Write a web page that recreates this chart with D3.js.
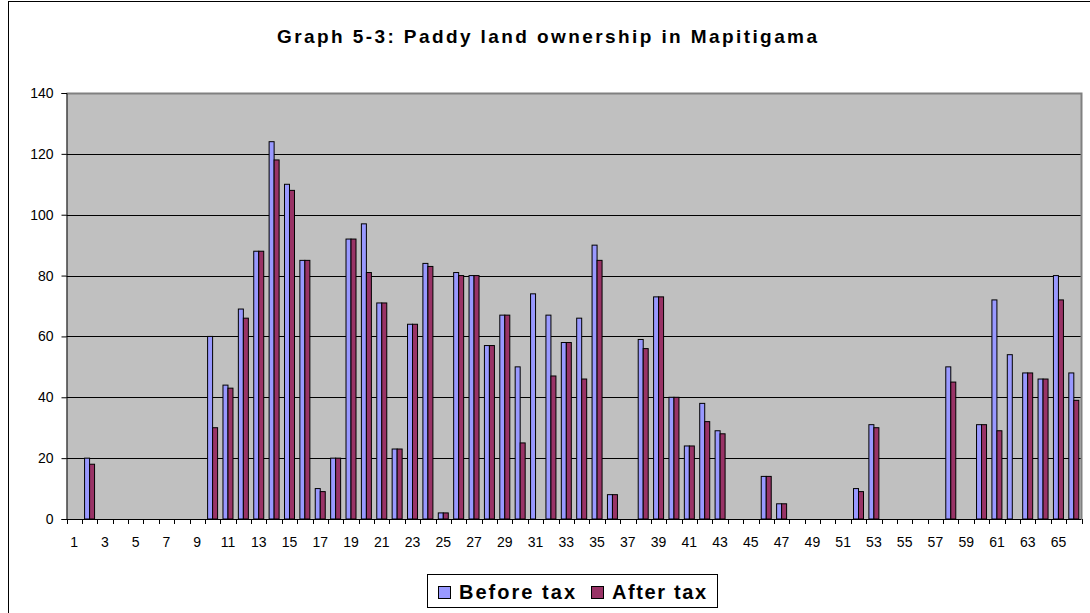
<!DOCTYPE html>
<html>
<head>
<meta charset="utf-8">
<script src="https://cdn.jsdelivr.net/npm/d3@7"></script>
<style>
  body { margin: 0; background: #fff; }
  svg { display: block; font-family: "Liberation Sans", Arial, sans-serif; }
</style>
</head>
<body>
<div id="chart"></div>
<script>
// categories 1..66 and the two series
var categories = d3.range(1, 67);
var beforeTax = [0,20,0,0,0,0,0,0,0,60, 44,69,88,124,110,85,10,20,92,97,
  71,23,64,84,2,81,80,57,67,50, 74,67,58,66,90,8,0,59,73,40,
  24,38,29,0,0,14,5,0,0,0, 0,10,31,0,0,0,0,50,0,31,
  72,54,48,46,80,48];
var afterTax = [0,18,0,0,0,0,0,0,0,30, 43,66,88,118,108,85,9,20,92,81,
  71,23,64,83,2,80,80,57,67,25, 0,47,58,46,85,8,0,56,73,40,
  24,32,28,0,0,14,5,0,0,0, 0,9,30,0,0,0,0,45,0,31,
  29,0,48,46,72,39];
var seriesNames = ["Before tax", "After tax"];
var yTicks = [0, 20, 40, 60, 80, 100, 120, 140];
var colors = ["#9999FF", "#993366"];

var w = 1090, h = 613;
var margin = { top: 93, bottom: 94, left: 66.5, right: 8.5 };
var height = h - margin.bottom;

var svg = d3.select("#chart").append("svg")
  .attr("width", w)
  .attr("height", h);

// outer chart border
svg.append("rect")
  .attr("x", 8.5).attr("y", 1.5)
  .attr("width", w + 20).attr("height", h + 20)
  .attr("fill", "#fff")
  .attr("stroke", "#000");

// title
svg.append("text")
  .attr("x", 277)
  .attr("y", 43)
  .attr("textLength", 540)
  .attr("lengthAdjust", "spacing")
  .style("font-size", "19px")
  .style("font-weight", "bold")
  .text("Graph 5-3: Paddy land ownership in Mapitigama");

var x = d3.scaleBand()
  .domain(categories)
  .range([margin.left, w - margin.right])
  .paddingInner(0.35)
  .paddingOuter(0.175);

var xs = d3.scaleBand()
  .domain([0, 1])
  .range([0, x.bandwidth()]);

var y = d3.scaleLinear()
  .domain([0, 140])
  .range([height, margin.top]);

// plot area
svg.append("rect")
  .attr("x", margin.left)
  .attr("y", margin.top)
  .attr("width", w - margin.right - margin.left)
  .attr("height", height - margin.top)
  .attr("fill", "#C0C0C0");

// gridlines
svg.append("g")
  .selectAll("line")
  .data(yTicks.filter(function(d) { return d > 0 && d < 140; }))
  .enter().append("line")
  .attr("x1", margin.left)
  .attr("x2", w - margin.right)
  .attr("y1", function(d) { return Math.round(y(d)) + 0.5; })
  .attr("y2", function(d) { return Math.round(y(d)) + 0.5; })
  .attr("stroke", "#000");

// top and right border of plot area
svg.append("path")
  .attr("d", "M" + margin.left + "," + (margin.top + 0.5) + "H" + (w - margin.right) + "V" + height)
  .attr("fill", "none")
  .attr("stroke", "#808080")
  .attr("stroke-width", 2);

// bars
var table = categories.map(function(c, i) { return { cat: c, values: [beforeTax[i], afterTax[i]] }; });

var groups = svg.append("g")
  .selectAll("g")
  .data(table)
  .enter().append("g")
  .attr("transform", function(d) { return "translate(" + x(d.cat) + ",0)"; });

groups.selectAll("rect")
  .data(function(d) { return d.values.map(function(v, k) { return { k: k, v: v }; }); })
  .enter()
  .filter(function(d) { return d.v > 0; })
  .append("rect")
  .attr("x", function(d) { return xs(d.k); })
  .attr("y", function(d) { return y(d.v); })
  .attr("width", xs.bandwidth())
  .attr("height", function(d) { return y(0) - y(d.v); })
  .attr("fill", function(d) { return colors[d.k]; })
  .attr("stroke", "#000")
  .attr("stroke-width", 1);

// y axis
var yAxis = d3.axisLeft(y).tickValues(yTicks).tickSize(5).tickPadding(8);
var gy = svg.append("g")
  .attr("transform", "translate(" + margin.left + ",0)")
  .call(yAxis);
gy.select(".domain").attr("stroke", "#000");
gy.selectAll("text").style("font-size", "14px").attr("fill", "#000");

// x axis: labels on odd categories, ticks on category boundaries
var xAxis = d3.axisBottom(x).tickSize(0).tickPadding(18)
  .tickFormat(function(d) { return d % 2 === 1 ? d : ""; });
var gx = svg.append("g")
  .attr("transform", "translate(0," + height + ")")
  .call(xAxis);
gx.select(".domain").remove();
gx.selectAll("text").style("font-size", "14px").attr("fill", "#000");

var step = x.step();
svg.append("g")
  .selectAll("line")
  .data(categories.concat([67]))
  .enter().append("line")
  .attr("x1", function(d) { return Math.round(margin.left + (d - 1) * step) + 0.5; })
  .attr("x2", function(d) { return Math.round(margin.left + (d - 1) * step) + 0.5; })
  .attr("y1", height)
  .attr("y2", height + 5)
  .attr("stroke", "#000");

svg.append("line")
  .attr("x1", margin.left).attr("x2", w - margin.right)
  .attr("y1", height + 0.5).attr("y2", height + 0.5)
  .attr("stroke", "#000");

// legend
var legend = svg.append("g");
legend.append("rect")
  .attr("x", 427.5).attr("y", 574.5)
  .attr("width", 290).attr("height", 33)
  .attr("fill", "#fff")
  .attr("stroke", "#000");

var legendX = [438, 591];
var legendTextX = [459, 612];
var legendLen = [116, 94];
seriesNames.forEach(function(name, k) {
  legend.append("rect")
    .attr("x", legendX[k] + 0.5).attr("y", 586.5)
    .attr("width", 12).attr("height", 12)
    .attr("fill", colors[k])
    .attr("stroke", "#000");
  legend.append("text")
    .attr("x", legendTextX[k])
    .attr("y", 599)
    .attr("textLength", legendLen[k])
    .attr("lengthAdjust", "spacing")
    .style("font-size", "20px")
    .style("font-weight", "bold")
    .text(name);
});
</script>
</body>
</html>
